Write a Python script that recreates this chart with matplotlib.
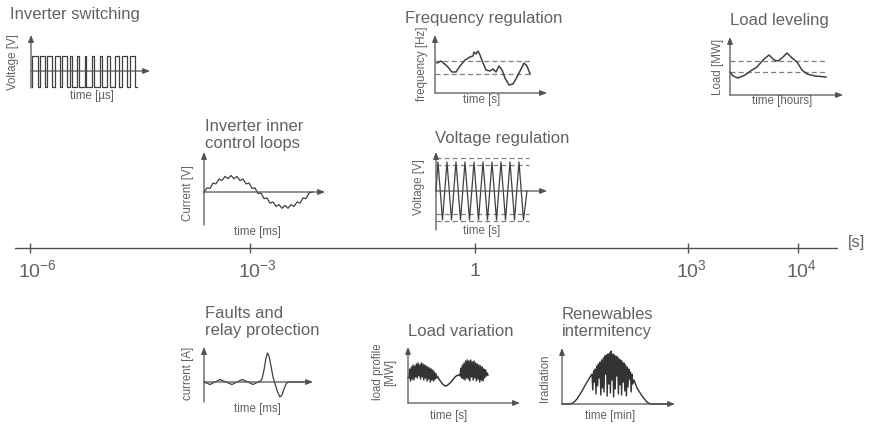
import numpy as np
import matplotlib
matplotlib.use("Agg")
import matplotlib.pyplot as plt

W, H = 882, 424
plt.rcParams['font.family'] = ['Liberation Sans', 'DejaVu Sans']
plt.rcParams['mathtext.fontset'] = 'custom'
plt.rcParams['mathtext.rm'] = 'Liberation Sans'
plt.rcParams['mathtext.it'] = 'Liberation Sans:italic'
plt.rcParams['mathtext.bf'] = 'Liberation Sans:bold'

# ---------------- data ----------------
timeline_labels = ["10$^{-6}$", "10$^{-3}$", "1", "10$^{3}$", "10$^{4}$"]
timeline_positions = [0.0, 3.0, 6.07, 8.97, 10.47]

# Inverter switching (PWM duty per period)
pwm_duty = [0.75, 0.75, 0.7, 0.7, 0.65, 0.35, 0.3, 0.25, 0.25, 0.3, 0.35, 0.65, 0.7, 0.75]
pwm_high, pwm_low = 15, -16

# Inverter inner control loops (current with switching ripple)
icl_t = [0, 3, 6, 9, 12, 15, 18, 21, 24, 27, 30, 33, 36, 39, 42, 45, 48, 51, 54,
         57, 60, 63, 66, 69, 72, 75, 78, 81, 84, 87, 90, 93, 96, 99, 102, 105, 108]
icl_v = [0, 4.1, 3.6, 9.0, 8.1, 13.0, 11.5, 15.6, 13.3, 16.5, 13.3, 15.6, 11.5, 13.0, 8.1, 9.0, 3.6, 4.1, -1.5,
         -1.1, -6.6, -6.0, -11.1, -10.0, -14.5, -12.6, -16.3, -13.5, -16.3, -12.6, -14.5, -10.0, -11.1, -6.0, -6.6, -1.1, 0]

# Frequency regulation
fr_t = [2, 6, 12, 17, 21, 25, 30, 35, 38, 39, 41, 43, 45, 48, 51, 55, 58, 61, 64, 67, 70, 74, 78, 82, 86, 89, 92, 95]
fr_v = [30, 32, 27, 21, 21, 27, 33, 36, 37, 41, 39, 42, 38, 30, 23, 22, 24, 21, 27, 23, 15, 8, 9, 16, 24, 30, 27, 19]
fr_band = [32, 19]

# Load leveling
ll_t = [0, 3, 8, 15, 22, 27, 33, 39, 44, 48, 52, 57, 62, 67, 72, 77, 85, 96]
ll_v = [23, 19, 17, 20, 25, 28, 35, 40, 35, 34, 37, 42, 37, 33, 25, 21, 19, 18]
ll_band = [34, 23]

# Voltage regulation
vr_t = [0, 2, 6.5, 11, 15.5, 20, 24.5, 29, 33.5, 38, 42.5, 47, 51.5, 56, 60.5, 65, 69.5, 74, 78.5, 83, 87.5, 91]
vr_v = [0, 29, -29, 29, -29, 29, -29, 29, -29, 29, -29, 29, -29, 29, -29, 29, -29, 29, -29, 29, -29, 0]
vr_band = [33, 26, -23, -30]

# Faults and relay protection
fa_t = [0, 6, 11, 16, 22, 28, 33, 38, 44, 49, 54, 56, 58, 60, 62, 63.5, 65, 67, 69, 70.5, 72, 74, 76, 78, 80, 82, 84, 100]
fa_v = [0, -2.5, 0, 2.5, 0, -2.5, 0, 2.5, 0, -2.5, 0, 0.5, 3, 12, 24, 29, 26, 16, 5, 0, -5, -11, -15, -13, -7, -2, 0, 0]

# Load variation
lv_noise1 = [25, 34, 22, 36, 24, 38, 23, 37, 26, 39, 25, 40, 27, 38, 24, 40, 26, 39, 23, 38,
             25, 37, 22, 36, 24, 35, 21, 34, 23, 33, 22, 31, 24, 29, 25]
lv_mid_t = [30, 31, 33, 35, 37, 39, 41, 43, 45, 47, 49, 51]
lv_mid_v = [26, 24, 21, 18.5, 17, 17.5, 19, 21, 23.5, 26, 27.5, 28]
lv_noise2 = [27, 35, 25, 38, 24, 40, 23, 42, 25, 43, 24, 42, 22, 43, 26, 41, 23, 42, 25, 40,
             22, 39, 24, 38, 21, 37, 23, 36, 22, 34, 25, 33, 27, 30, 28]

# Renewables intermittency
ren_head_t = [0, 8, 11, 15, 20, 25]
ren_head_v = [0, 0, 1, 5, 13, 22]
ren_noise = [30, 14, 33, 22, 35, 10, 38, 18, 40, 26,
             42, 9, 44, 16, 46, 12, 48, 30, 49, 8,
             50, 20, 51, 11, 53, 24, 50, 7, 49, 15,
             48, 28, 47, 10, 45, 19, 44, 9, 42, 22,
             41, 13, 39, 8, 37, 17, 35, 25, 32, 12,
             30, 20]
ren_tail_t = [72, 75, 80, 85, 88, 105]
ren_tail_v = [24, 16, 8, 2, 0, 0]

# ---------------- styles ----------------
LC = '#404040'     # curves
AC = '#525252'     # axes lines
TC = '#626262'     # text
DC = '#808080'     # dashed
TITLE_FS = 12
LAB_FS = 8.3

fig = plt.figure(figsize=(W / 100, H / 100), dpi=100)
bg = fig.add_axes([0, 0, 1, 1])
bg.set_xlim(0, W)
bg.set_ylim(H, 0)
bg.axis('off')


def inset(x0, y0, t_lo, t_hi, v_lo, v_hi):
    L, R = x0 + t_lo, x0 + t_hi
    T, B = y0 - v_hi, y0 - v_lo
    ax = fig.add_axes([L / W, 1 - B / H, (R - L) / W, (B - T) / H])
    ax.set_xlim(t_lo, t_hi)
    ax.set_ylim(v_lo, v_hi)
    ax.axis('off')
    return ax


def arrow(ax, p0, p1):
    ax.annotate('', xy=p1, xytext=p0, annotation_clip=False,
                arrowprops=dict(arrowstyle='-|>,head_length=0.45,head_width=0.18',
                                lw=0.9, color=AC, shrinkA=0, shrinkB=0, mutation_scale=9))


def axes_lines(ax, v_bot, v_top, t_end):
    arrow(ax, (0, v_bot), (0, v_top))
    arrow(ax, (0, 0), (t_end, 0))


def title(x, y, s):
    bg.text(x, y, s, fontsize=TITLE_FS, color=TC, ha='left', va='center', linespacing=1.15)


def xlab(x, y, s):
    bg.text(x, y, s, fontsize=LAB_FS, color=TC, ha='center', va='center')


def ylab(x, y, s):
    bg.text(x, y, s, fontsize=LAB_FS, color=TC, ha='center', va='center', rotation=90,
            linespacing=1.1)


# ---- Inverter switching ----
ax = inset(31, 71, -3, 125, -20, 40)
xs, ys = [], []
P = 7.5
for k, d in enumerate(pwm_duty):
    t0 = 1 + k * P
    xs += [t0, t0, t0 + d * P, t0 + d * P]
    ys += [pwm_low, pwm_high, pwm_high, pwm_low]
xs.append(1 + len(pwm_duty) * P)
ys.append(pwm_low)
ax.plot(xs, ys, color=LC, lw=0.9)
axes_lines(ax, -17, 36, 119)
title(10, 15, "Inverter switching")
ylab(13, 62, "Voltage [V]")
xlab(92, 96, "time [µs]")

# ---- Inverter inner control loops ----
ax = inset(204, 192, -3, 126, -36, 44)
ax.plot(icl_t, icl_v, color=LC, lw=0.9)
axes_lines(ax, -33, 40, 121)
title(205, 135, "Inverter inner\ncontrol loops")
ylab(188, 193, "Current [V]")
xlab(257, 232, "time [ms]")

# ---- Frequency regulation ----
ax = inset(435, 93, -3, 116, -3, 62)
for b in fr_band:
    ax.plot([0, 97], [b, b], color=DC, lw=0.9, dashes=(4, 2.5))
ax.plot(fr_t, fr_v, color=LC, lw=1.1)
axes_lines(ax, 0, 58, 112)
title(405, 18, "Frequency regulation")
ylab(422, 64, "frequency [Hz]")
xlab(482, 100, "time [s]")

# ---- Load leveling ----
ax = inset(730, 95, -3, 117, -3, 62)
for b in ll_band:
    ax.plot([0, 95], [b, b], color=DC, lw=0.9, dashes=(4, 2.5))
ax.plot(ll_t, ll_v, color=LC, lw=1.1)
axes_lines(ax, 0, 58, 113)
title(730, 20, "Load leveling")
ylab(718, 67, "Load [MW]")
xlab(782, 101, "time [hours]")

# ---- Voltage regulation ----
ax = inset(436, 191, -3, 115, -42, 43)
for b in vr_band:
    ax.plot([0, 93], [b, b], color=DC, lw=0.9, dashes=(4, 2.5))
ax.plot(vr_t, vr_v, color=LC, lw=0.9)
axes_lines(ax, -39, 39, 111)
title(435, 138, "Voltage regulation")
ylab(419, 187, "Voltage [V]")
xlab(482, 231, "time [s]")

# ---- Timeline ----
tl = fig.add_axes([15 / W, 1 - 258 / H, (838 - 15) / W, 20 / H])
u = 220 / 3.0
tl.set_xlim((15 - 30) / u, (838 - 30) / u)
tl.set_ylim(-1, 1)
tl.axis('off')
tl.plot([(15 - 30) / u, (838 - 30) / u], [0, 0], color=AC, lw=1.0)
tl.vlines(timeline_positions, -0.5, 0.5, color=AC, lw=1.0)
for p, lab in zip(timeline_positions, timeline_labels):
    if lab == "1":
        tl.annotate(lab, xy=(p, 0), xytext=(0, -24), textcoords='offset pixels',
                    ha='center', va='center', fontsize=14, color=TC)
    else:
        tl.annotate(lab, xy=(p, 0), xytext=(-12, -22), textcoords='offset pixels',
                    ha='left', va='center', fontsize=14, color=TC)
bg.text(848, 243, "[s]", fontsize=12, color=TC, ha='left', va='center')

# ---- Faults and relay protection ----
ax = inset(204, 382, -3, 113, -23, 38)
ax.plot(fa_t, fa_v, color=LC, lw=0.9)
axes_lines(ax, -20, 35, 109)
title(205, 322, "Faults and\nrelay protection")
ylab(188, 373, "current [A]")
xlab(257, 409, "time [ms]")

# ---- Load variation ----
ax = inset(408, 403, -3, 116, -3, 60)
lv_t1 = np.linspace(1, 29, len(lv_noise1))
lv_t2 = np.linspace(52, 80, len(lv_noise2))
lv_t = np.concatenate([[0], lv_t1, lv_mid_t, lv_t2])
lv_v = np.concatenate([[25], lv_noise1, lv_mid_v, lv_noise2])
ax.plot(lv_t, lv_v, color='#333333', lw=1.05)
axes_lines(ax, 0, 56, 112)
title(408, 331, "Load variation")
ylab(384, 372, "load profile\n[MW]")
xlab(449, 416, "time [s]")

# ---- Renewables intermittency ----
ax = inset(562, 404, -3, 117, -3, 60)
ren_tn = 30 + 0.8 * np.arange(len(ren_noise))
r_t = np.concatenate([ren_head_t, ren_tn, ren_tail_t])
r_v = np.concatenate([ren_head_v, ren_noise, ren_tail_v])
ax.plot(r_t, r_v, color='#333333', lw=1.0)
axes_lines(ax, 0, 56, 113)
title(562, 323, "Renewables\nintermitency")
ylab(545, 378, "Iradiation")
xlab(610, 416, "time [min]")

fig.savefig("out.png", dpi=100)
